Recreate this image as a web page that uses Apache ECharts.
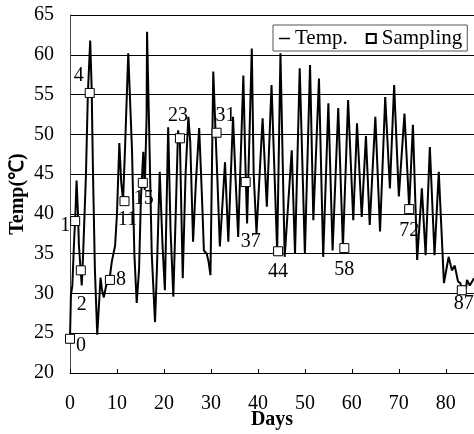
<!DOCTYPE html>
<html>
<head>
<meta charset="utf-8">
<script src="https://cdn.jsdelivr.net/npm/echarts@6/dist/echarts.min.js"></script>
<style>
  html, body { margin: 0; padding: 0; background: #fff; }
  #main { width: 474px; height: 434px; }
</style>
</head>
<body>
<div id="main"></div>
<script>
// temperature trace (day, degC)
var days = [0.0, 0.2, 0.5, 0.9, 1.1, 1.4, 1.7, 1.9, 2.5, 2.8, 3.4, 3.8, 4.3, 4.6, 4.9, 5.3, 5.8,
    6.5, 6.8, 7.2, 7.7, 8.4, 8.9, 9.6, 10.0, 10.5, 10.9, 11.3, 11.7, 12.4, 12.8, 13.2, 13.7, 14.2,
    14.7, 15.1, 15.6, 15.9, 16.3, 16.4, 16.8, 17.4, 18.1, 18.5, 19.1, 19.7, 20.2, 20.9, 21.4, 22.0,
    22.6, 23.0, 23.4, 24.0, 24.6, 25.2, 25.6, 26.2, 26.8, 27.5, 28.1, 28.5, 29.1, 29.5, 29.9, 30.5,
    31.0, 31.4, 31.9, 33.0, 33.7, 34.7, 35.2, 35.8, 36.9, 37.3, 37.7, 38.7, 39.1, 39.7, 41.0, 41.9,
    42.9, 44.1, 44.8, 45.7, 47.2, 47.9, 48.9, 50.0, 51.1, 51.8, 53.0, 53.9, 55.0, 55.9, 57.1, 58.1,
    59.2, 60.3, 61.1, 62.1, 63.0, 63.8, 65.0, 66.0, 67.1, 68.1, 69.0, 70.0, 71.2, 72.2, 73.0, 73.9,
    74.9, 75.7, 76.6, 77.6, 78.5, 79.6, 80.6, 81.3, 81.9, 82.6, 83.1, 83.5, 83.8, 84.3, 84.5, 85.1, 86.0];
var temps = [24.4, 29.8, 31, 37, 39.2, 44.2, 40, 36, 31, 35, 45, 55, 61.8, 56, 45, 33, 24.8,
    32, 30.5, 29.5, 31, 31.7, 34, 36, 40, 48.9, 44, 41.7, 48, 60.2, 60, 48, 35, 28.8,
    33, 42, 47.8, 43, 52, 62.9, 52, 35, 26.4, 33, 45.3, 36, 30.4, 50.9, 38, 29.6,
    42, 50.5, 49, 31.9, 45, 52.2, 49, 36.5, 44, 50.8, 42, 35.4, 35, 34, 32.3, 57.9,
    50, 44, 35.9, 46.5, 36.5, 52.2, 45, 37.1, 57.4, 47, 38.8, 60.8, 45, 37.6, 52, 40.9,
    56.2, 35.2, 60.2, 34.6, 48, 35, 58.3, 35, 58.7, 39.2, 57, 34.6, 53.9, 35.4, 53.3, 35.8,
    54.3, 39.2, 51.4, 39.6, 49.8, 38.6, 52.2, 37.8, 54.7, 43.2, 56.2, 42.2, 52.6, 40.8, 51.2, 34.2,
    43.2, 34.8, 48.4, 34.8, 45.3, 31.3, 34.6, 32.9, 33.5, 31.5, 31.3, 30.2, 31, 30.6, 31.7, 31, 31.9];

// sampling points
var sampleDays = [0, 1.1, 2.3, 4.2, 8.5, 11.6, 15.5, 23.4, 31.2, 37.4, 44.3, 58.4, 72.2, 83.4];
var sampleTemps = [24.3, 39.1, 32.9, 55.2, 31.7, 41.6, 43.9, 49.5, 50.2, 44.0, 35.3, 35.7, 40.6, 30.4];
var sampleLabels = ['0', '1', '2', '4', '8', '11', '15', '23', '31', '37', '44', '58', '72', '87'];

var xTicks = [0, 10, 20, 30, 40, 50, 60, 70, 80];

// where each sample label sits relative to its square (px)
var labelOffsets = [[11, 7], [-10, 5], [1, 34], [-11, -17], [11, 0], [3, 19], [1, 16],
    [-2, -23], [9, -17], [5, 60], [0, 20], [0, 22], [0, 22], [2, 13]];

var serif = '"Liberation Serif", "Times New Roman", serif';

var lineData = [];
for (var i = 0; i < days.length; i++) {
    lineData.push([days[i], temps[i]]);
}
var sampleData = [];
for (var i = 0; i < sampleDays.length; i++) {
    sampleData.push({
        name: sampleLabels[i],
        value: [sampleDays[i], sampleTemps[i]],
        label: { offset: labelOffsets[i] }
    });
}

var chart = echarts.init(document.getElementById('main'), null, { renderer: 'canvas' });
var option = {
    animation: false,
    backgroundColor: '#fff',
    textStyle: { fontFamily: serif, color: '#000' },
    grid: { left: 70, top: 15, right: 0, bottom: 61, containLabel: false, outerBoundsMode: 'none' },
    legend: {
        left: 273,
        top: 25,
        padding: [3, 5, 2, 6],
        itemGap: 18,
        itemWidth: 11,
        itemHeight: 9,
        itemTextGap: 4,
        symbolKeepAspect: true,
        borderColor: '#555',
        borderWidth: 1,
        backgroundColor: '#fff',
        textStyle: { fontFamily: serif, fontSize: 21, color: '#000' },
        data: [
            { name: 'Temp.', icon: 'path://M0,0H12V1.6H0Z', itemStyle: { color: '#000' } },
            { name: 'Sampling', icon: 'path://M0,0H8V8H0Z' }
        ]
    },
    xAxis: {
        type: 'value',
        min: 0,
        max: 86,
        interval: 10,
        name: 'Days',
        nameLocation: 'middle',
        nameGap: 37,
        nameMoveOverlap: false,
        nameTextStyle: { fontFamily: serif, fontSize: 20, fontWeight: 'bold', color: '#000' },
        axisLine: { show: true, lineStyle: { color: '#000', width: 1 } },
        axisTick: { show: true, inside: true, length: 4, lineStyle: { color: '#000' } },
        axisLabel: {
            margin: 21,
            fontFamily: serif,
            fontSize: 20,
            color: '#000',
            showMaxLabel: false,
            formatter: function (v) { return xTicks.indexOf(v) >= 0 ? String(v) : ''; }
        },
        splitLine: { show: false }
    },
    yAxis: {
        type: 'value',
        min: 20,
        max: 65,
        interval: 5,
        name: 'Temp(℃)',
        nameLocation: 'middle',
        nameRotate: 90,
        nameGap: 42,
        nameMoveOverlap: false,
        nameTextStyle: { fontFamily: serif, fontSize: 20, fontWeight: 'bold', color: '#000' },
        axisLine: { show: true, lineStyle: { color: '#444', width: 1 } },
        axisTick: { show: false },
        axisLabel: { margin: 16, fontFamily: serif, fontSize: 20, color: '#000' },
        splitLine: { show: true, lineStyle: { color: '#000', width: 1 } }
    },
    series: [
        {
            name: 'Temp.',
            type: 'line',
            data: lineData,
            showSymbol: false,
            symbol: 'none',
            lineStyle: { color: '#000', width: 2 },
            itemStyle: { color: '#000' },
            z: 2
        },
        {
            name: 'Sampling',
            type: 'scatter',
            data: sampleData,
            symbol: 'rect',
            symbolSize: 9,
            clip: false,
            itemStyle: { color: '#fff', borderColor: '#000', borderWidth: 1, opacity: 1 },
            label: {
                show: true,
                position: 'inside',
                formatter: '{b}',
                fontFamily: serif,
                fontSize: 20,
                color: '#000',
                textBorderWidth: 0,
                textBorderColor: 'transparent'
            },
            z: 3
        }
    ]
};
chart.setOption(option);
</script>
</body>
</html>
